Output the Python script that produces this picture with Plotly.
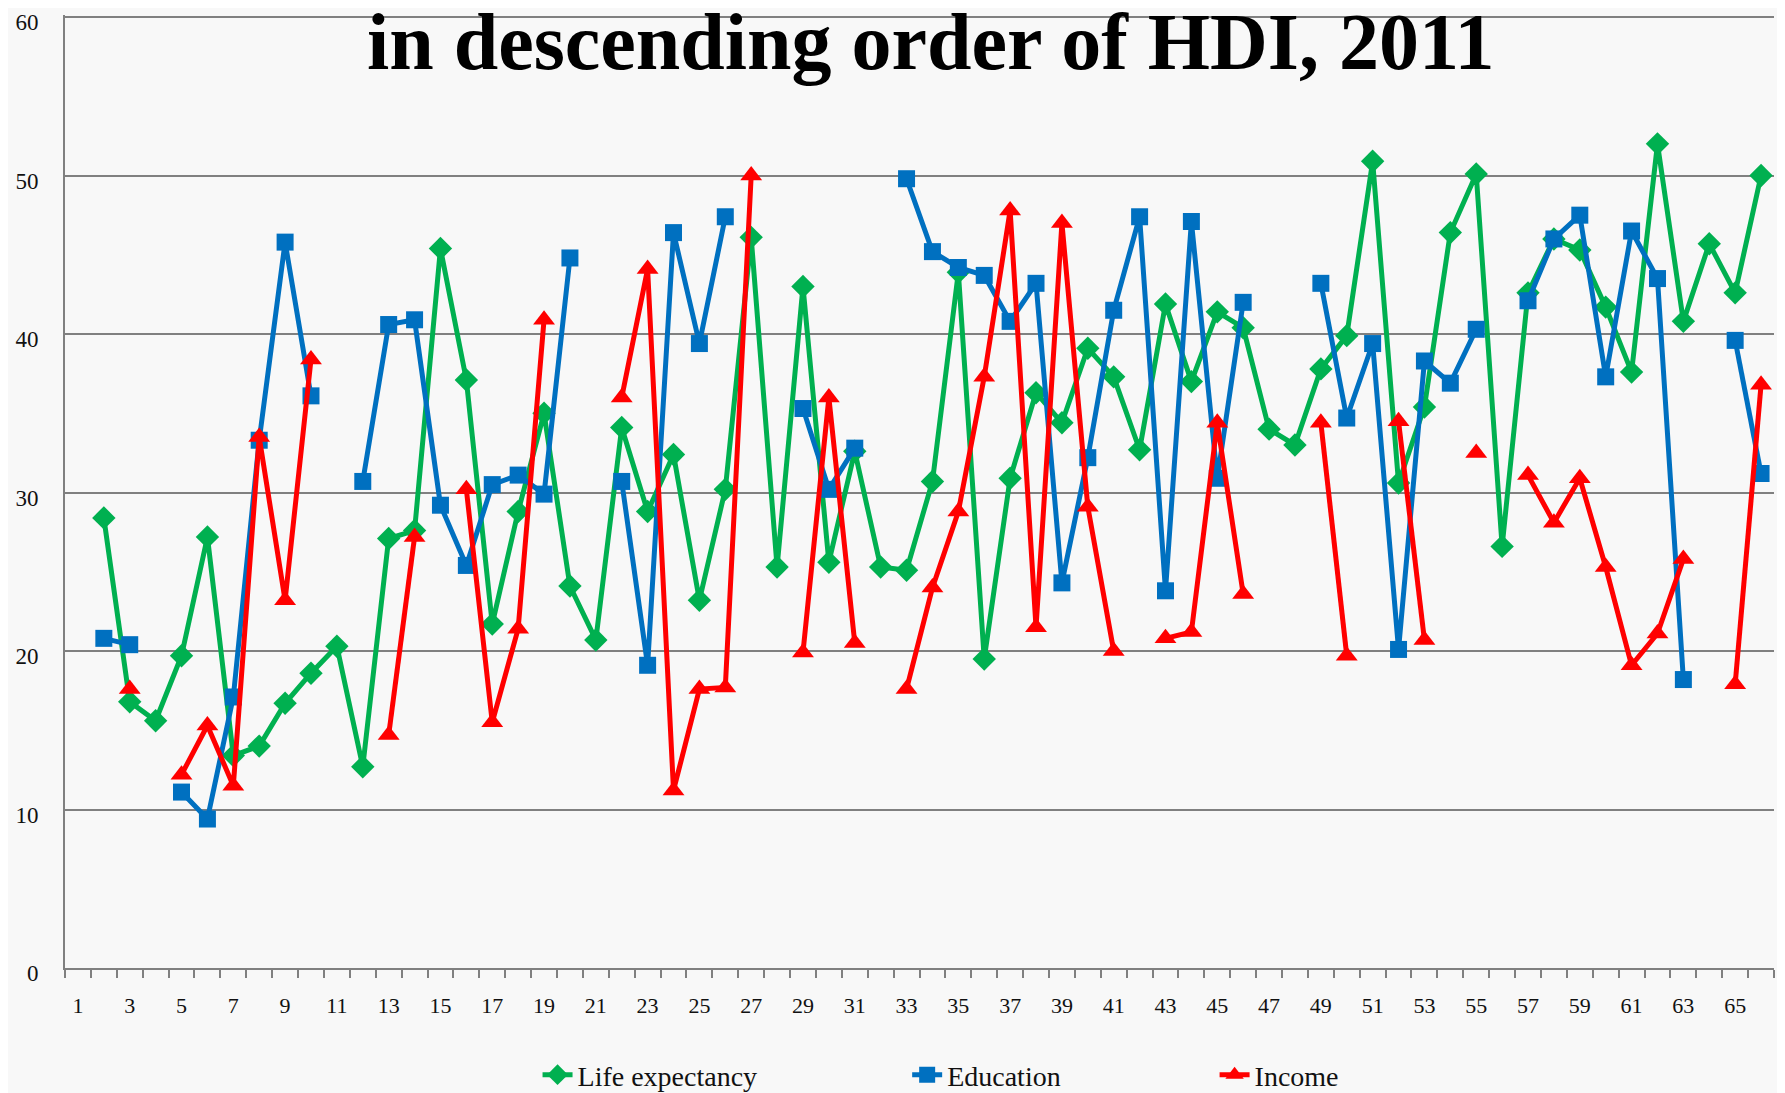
import plotly.graph_objects as go

categories = list(range(1, 67))

life_expectancy = [None, 28.4, 16.8, 15.6, 19.7, 27.2, 13.4, 14.0, 16.7, 18.6,
                   20.3, 12.7, 27.1, 27.6, 45.4, 37.1, 21.7, 28.8, 35.0, 24.1,
                   20.7, 34.1, 28.8, 32.4, 23.2, 30.2, 46.1, 25.3, 43.0, 25.6,
                   32.6, 25.3, 25.1, 30.7, 43.9, 19.5, 30.9, 36.3, 34.4, 39.1,
                   37.3, 32.7, 41.9, 37.0, 41.4, 40.4, 34.0, 33.0, 37.8, 39.9,
                   50.9, 30.6, 35.4, 46.4, 50.1, 26.6, 42.6, 46.0, 45.3, 41.7,
                   37.6, 52.0, 40.8, 45.7, 42.6, 50.0]

education = [None, 20.8, 20.4, None, 11.1, 9.4, 17.1, 33.3, 45.8, 36.1,
             None, 30.7, 40.6, 40.9, 29.2, 25.4, 30.5, 31.1, 29.9, 44.8,
             None, 30.7, 19.1, 46.4, 39.4, 47.4, None, None, 35.3, 30.2,
             32.8, None, 49.8, 45.2, 44.2, 43.7, 40.8, 43.2, 24.3, 32.2,
             41.5, 47.4, 23.8, 47.1, 30.9, 42.0, None, None, 43.2, 34.7,
             39.4, 20.1, 38.3, 36.9, 40.3, None, 42.1, 46.0, 47.5, 37.3,
             46.5, 43.5, 18.2, None, 39.6, 31.2]

income = [None, None, 17.6, None, 12.2, 15.3, 11.5, 33.5, 23.2, 38.4,
          None, None, 14.7, 27.2, None, 30.2, 15.5, 21.4, 40.9, None,
          None, 36.0, 44.1, 11.2, 17.6, 17.7, 50.0, None, 19.9, 36.0,
          20.5, None, 17.6, 24.0, 28.8, 37.3, 47.8, 21.5, 47.0, 29.1,
          20.0, None, 20.8, 21.2, 34.4, 23.6, None, None, 34.4, 19.7,
          None, 34.5, 20.7, None, 32.5, None, 31.1, 28.1, 30.9, 25.3,
          19.1, 21.1, 25.8, None, 17.9, 36.8]

x_tick_labels = [str(v) for v in range(1, 67, 2)]
y_ticks = [0, 10, 20, 30, 40, 50, 60]

font_family = "Liberation Serif"

series = [
    ("Life expectancy", life_expectancy, "#00B050", "diamond", 18, "legend", 0.298),
    ("Education", education, "#0070C0", "square", 17, "legend2", 0.506),
    ("Income", income, "#FF0000", "triangle-up", 19, "legend3", 0.679),
]

fig = go.Figure()
legend_defs = {}
for name, vals, color, symbol, size, lg, lx in series:
    fig.add_trace(go.Scatter(
        x=categories, y=vals, name=name, mode="lines+markers",
        connectgaps=False, legend=lg,
        line=dict(color=color, width=5),
        marker=dict(color=color, symbol=symbol, size=size),
    ))
    legend_defs[lg] = dict(
        xref="container", yref="container",
        x=lx, xanchor="left", y=0.0166, yanchor="middle",
        orientation="h",
        font=dict(size=28, family=font_family, color="#111111"),
        bgcolor="rgba(0,0,0,0)",
    )

fig.update_layout(
    width=1777, height=1085,
    margin=dict(l=57, r=11, t=7, b=125, autoexpand=False),
    paper_bgcolor="#f8f8f8",
    plot_bgcolor="#f8f8f8",
    font=dict(family=font_family, color="#111111", size=20),
    showlegend=True,
    annotations=[dict(
        text="<b>in descending order of HDI, 2011</b>",
        xref="paper", yref="paper", x=0.507, y=0.972,
        xanchor="center", yanchor="middle", showarrow=False,
        font=dict(size=80, family=font_family, color="#000000"),
    )],
    **legend_defs,
)

fig.update_xaxes(
    range=[0.5, 66.5], automargin=False,
    tickmode="array", tickvals=list(range(1, 67, 2)), ticktext=x_tick_labels,
    ticks="", ticklabelstandoff=17, ticklabeloverflow="allow",
    tickfont=dict(size=22, family=font_family),
    showgrid=False, zeroline=False,
    showline=True, linecolor="#808080", linewidth=2,
    minor=dict(tick0=0.5, dtick=1, ticks="outside", ticklen=8,
               tickcolor="#808080", tickwidth=1.5, showgrid=False),
)

fig.update_yaxes(
    range=[0, 60.13], tickvals=y_ticks, automargin=False,
    ticks="", ticklabelstandoff=20, ticklabeloverflow="allow",
    ticklabelshift=5,
    tickfont=dict(size=23, family=font_family),
    showgrid=True, gridcolor="#808080", gridwidth=2,
    zeroline=False,
    showline=True, linecolor="#808080", linewidth=2,
)

fig.write_html("out.html")
